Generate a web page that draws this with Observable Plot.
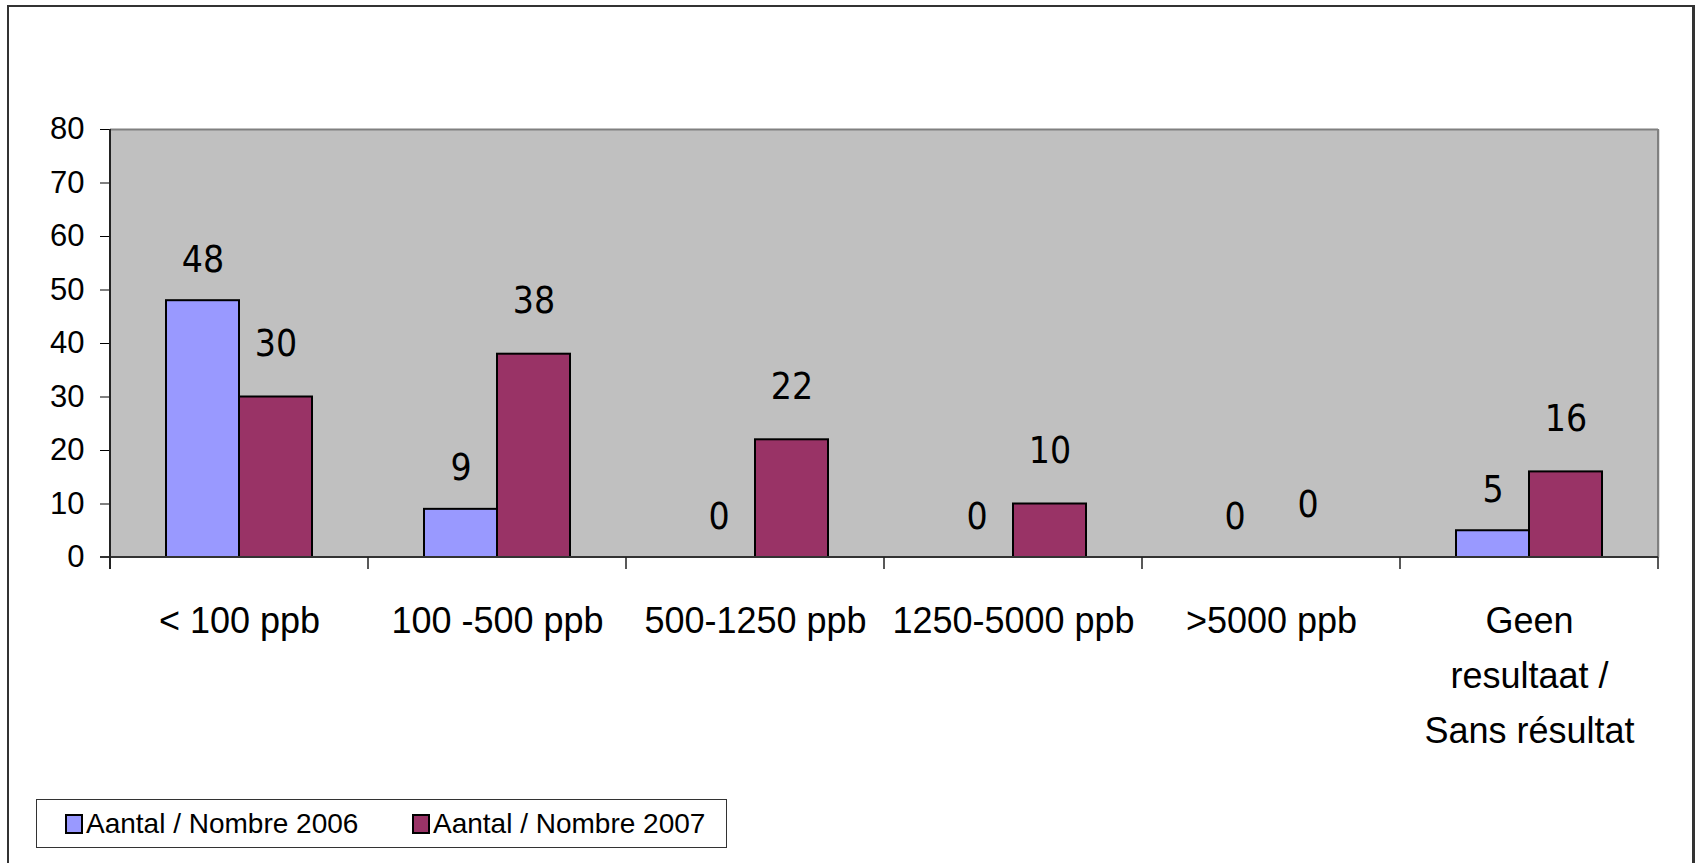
<!DOCTYPE html>
<html>
<head>
<meta charset="utf-8">
<script src="https://cdn.jsdelivr.net/npm/d3@7"></script>
<script src="https://cdn.jsdelivr.net/npm/@observablehq/plot@0.6"></script>
<style>
  body { margin:0; background:#fff; width:1696px; height:863px; position:relative; overflow:hidden;
         font-family:"Liberation Sans", Arial, sans-serif; }
  #frame { position:absolute; left:7px; top:5px; width:1683px; height:900px;
           border-left:2px solid #333; border-top:2px solid #333; border-right:3px solid #333; }
  #chart { position:absolute; left:0; top:0; }
  #legend { position:absolute; left:36px; top:799px; width:691px; height:49px; border:1.5px solid #333;
            box-sizing:border-box; font-size:28px; color:#000; }
  .item { position:absolute; top:0; height:100%; display:flex; align-items:center; white-space:nowrap; }
  .sw { width:14px; height:16px; border:2px solid #000; margin-right:3px; }
</style>
</head>
<body>
<div id="frame"></div>
<div id="chart"></div>
<div id="legend"></div>
<script>
const categories = ["< 100 ppb", "100 -500 ppb", "500-1250 ppb", "1250-5000 ppb", ">5000 ppb", "Geen resultaat / Sans résultat"];
const tickLabels = ["< 100 ppb", "100 -500 ppb", "500-1250 ppb", "1250-5000 ppb", ">5000 ppb", "Geen\nresultaat /\nSans résultat"];
const series = ["Aantal / Nombre 2006", "Aantal / Nombre 2007"];
const values2006 = [48, 9, 0, 0, 0, 5];
const values2007 = [30, 38, 22, 10, 0, 16];
const yTicks = [0, 10, 20, 30, 40, 50, 60, 70, 80];
const colors = ["#9999FF", "#993366"];

const data = categories.flatMap((c, i) => [
  {cat: c, series: series[0], value: values2006[i]},
  {cat: c, series: series[1], value: values2007[i]}
]);

const plot = Plot.plot({
  width: 1696,
  height: 790,
  marginLeft: 107,
  marginRight: 36,
  marginTop: 129,
  marginBottom: 233,
  style: {fontFamily: "'Liberation Sans', Arial, sans-serif", color: "#000", background: "transparent", overflow: "visible"},
  fx: {domain: categories, padding: 0, label: null},
  x: {domain: series, paddingInner: 0, paddingOuter: 0.75, axis: null},
  y: {domain: [0, 80], label: null},
  color: {domain: series, range: colors},
  marks: [
    Plot.frame({fill: "#c0c0c0", insetLeft: -1, insetRight: -1}),
    Plot.ruleY([80], {stroke: "#808080", strokeWidth: 2}),
    Plot.barY(data.filter(d => d.value > 0), {fx: "cat", x: "series", y: "value", fill: "series", stroke: "#000", strokeWidth: 2}),
    Plot.text(data.filter(d => d.series === series[0]), {fx: "cat", x: "series", y: "value", text: d => String(d.value),
      lineAnchor: "bottom", dy: -29, fontSize: 37, fontFamily: "'DejaVu Sans Condensed', 'DejaVu Sans', sans-serif", fill: "#000"}),
    Plot.text(data.filter(d => d.series === series[1]), {fx: "cat", x: "series", y: "value", text: d => String(d.value),
      lineAnchor: "bottom", dy: -41, fontSize: 37, fontFamily: "'DejaVu Sans Condensed', 'DejaVu Sans', sans-serif", fill: "#000"}),
    Plot.axisY(yTicks, {tickSize: 10, tickPadding: 16, fontSize: 31, label: null, stroke: "#000"}),
    Plot.axisFx({anchor: "bottom", tickSize: 0, tickPadding: 36, fontSize: 36, lineHeight: 1.53, label: null,
      tickFormat: d => tickLabels[categories.indexOf(d)]})
  ]
});
document.getElementById("chart").appendChild(plot);

// axis lines and category boundary ticks, positioned from the plot's own scales
const fx = plot.scale("fx");
const ys = plot.scale("y");
const y0 = ys.apply(0), yTop = ys.apply(80);
const bounds = categories.map(c => fx.apply(c)).concat([fx.apply(categories[categories.length - 1]) + fx.bandwidth]);
const left = bounds[0], right = bounds[bounds.length - 1];
const g = d3.select(plot).append("g");
g.append("line").attr("x1", right).attr("x2", right).attr("y1", yTop).attr("y2", y0).attr("stroke", "#808080").attr("stroke-width", 2);
g.append("line").attr("x1", left - 10).attr("x2", right).attr("y1", y0).attr("y2", y0).attr("stroke", "#333").attr("stroke-width", 2);
g.append("line").attr("x1", left).attr("x2", left).attr("y1", yTop).attr("y2", y0 + 12).attr("stroke", "#222").attr("stroke-width", 2);
g.selectAll("line.b").data(bounds.slice(1)).join("line").attr("class", "b")
  .attr("x1", d => d).attr("x2", d => d).attr("y1", y0).attr("y2", y0 + 12).attr("stroke", "#222").attr("stroke-width", 1.5);

// legend
const legend = document.getElementById("legend");
const offsets = [28, 375];
series.forEach((s, i) => {
  const it = document.createElement("div");
  it.className = "item";
  it.style.left = offsets[i] + "px";
  const sw = document.createElement("div");
  sw.className = "sw";
  sw.style.background = colors[i];
  const t = document.createElement("span");
  t.textContent = s;
  it.appendChild(sw); it.appendChild(t);
  legend.appendChild(it);
});
</script>
</body>
</html>
